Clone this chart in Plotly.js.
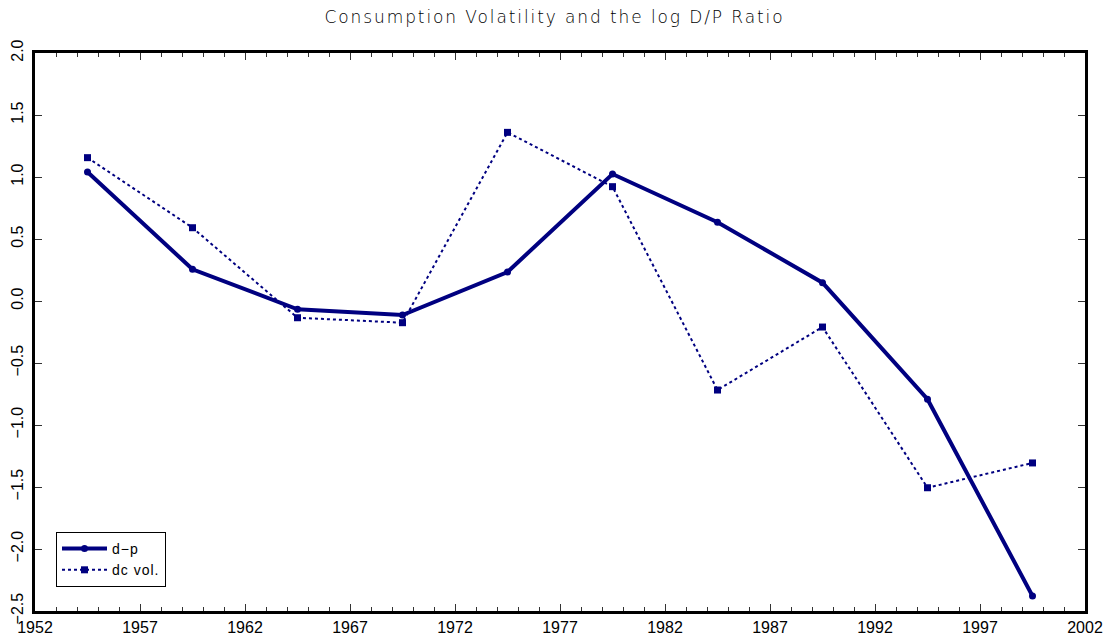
<!DOCTYPE html>
<html>
<head>
<meta charset="utf-8">
<script src="https://cdn.plot.ly/plotly-3.0.1.min.js"></script>
<style>html,body{margin:0;padding:0;background:#fff;}#chart{width:1109px;height:641px;}
.gtitle{letter-spacing:1.9px;}
.legendtext{letter-spacing:1px;}
</style>
</head>
<body>
<div id="chart"></div>
<script>
const years = [1954.5, 1959.5, 1964.5, 1969.5, 1974.5, 1979.5, 1984.5, 1989.5, 1994.5, 1999.5];
const dp = [1.04, 0.256, -0.067, -0.113, 0.234, 1.024, 0.635, 0.148, -0.792, -2.379];
const dcVol = [1.156, 0.591, -0.135, -0.175, 1.36, 0.922, -0.718, -0.21, -1.506, -1.306];
const xTicks = [1952, 1957, 1962, 1967, 1972, 1977, 1982, 1987, 1992, 1997, 2002];
const yTicks = [-2.5, -2.0, -1.5, -1.0, -0.5, 0.0, 0.5, 1.0, 1.5, 2.0];
const yTickText = yTicks.map(v => v.toFixed(1).replace('-', '\u2212'));

const navy = '#000080';
const traces = [
  {x: years, y: dp, name: 'd\u2212p', type: 'scatter', mode: 'lines+markers',
   line: {color: navy, width: 4}, marker: {color: navy, symbol: 'circle', size: 7}},
  {x: years, y: dcVol, name: 'dc vol.', type: 'scatter', mode: 'lines+markers',
   line: {color: navy, width: 2, dash: 'dot'}, marker: {color: navy, symbol: 'square', size: 7}}
];

const layout = {
  width: 1109, height: 641,
  margin: {l: 35, r: 24, t: 53, b: 30},
  paper_bgcolor: '#fff', plot_bgcolor: '#fff',
  font: {family: 'Liberation Sans, Arial, sans-serif', color: '#000', size: 16},
  title: {text: 'Consumption Volatility and the log D/P Ratio', x: 0.5, xanchor: 'center', y: 0.973, yanchor: 'middle',
          font: {family: 'DejaVu Sans, sans-serif', size: 17, color: '#000', weight: 300}},
  showlegend: true,
  legend: {x: 0.02, y: 0.043, xanchor: 'left', yanchor: 'bottom', bordercolor: '#000', borderwidth: 1,
           bgcolor: '#fff', font: {size: 14}, tracegroupgap: 0, itemwidth: 45},
  xaxis: {range: [1952, 2002], tickvals: xTicks, ticktext: xTicks.map(String), ticks: 'inside', ticklen: 7,
          tickcolor: '#333', tickwidth: 1, showline: true, linecolor: '#000', linewidth: 3, mirror: 'ticks',
          showgrid: false, zeroline: false, tickfont: {size: 16}, ticklabelstandoff: 0,
          minor: {dtick: 1, tick0: 1952, ticks: 'inside', ticklen: 4, tickcolor: '#333', showgrid: false}},
  yaxis: {range: [-2.5, 2.0], tickvals: yTicks, ticktext: yTickText, ticks: 'inside', ticklen: 7,
          tickcolor: '#333', tickwidth: 1, showline: true, linecolor: '#000', linewidth: 3, mirror: 'ticks',
          showgrid: false, zeroline: false, tickangle: -90, tickfont: {size: 16}, ticklabelstandoff: 3}
};

Plotly.newPlot('chart', traces, layout, {displayModeBar: false, staticPlot: true});
</script>
</body>
</html>
